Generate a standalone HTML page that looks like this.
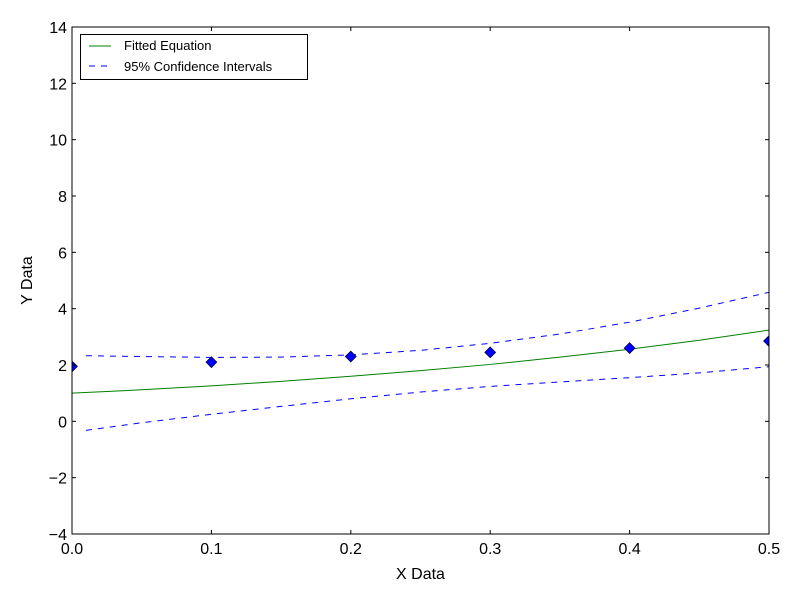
<!DOCTYPE html>
<html><head><meta charset="utf-8"><style>
body{margin:0;background:#fff;}
svg{display:block;font-family:"Liberation Sans","DejaVu Sans",sans-serif;}
</style></head><body>
<svg id="chart" width="800" height="600">
<rect x="0" y="0" width="800" height="600" fill="#fff"/>
<g id="plot"></g>
</svg>
<script>
const xTicks=[0,0.1,0.2,0.3,0.4,0.5];
const xTickLabels=["0.0","0.1","0.2","0.3","0.4","0.5"];
const yTicks=[-4,-2,0,2,4,6,8,10,12,14];
const yTickLabels=["\u22124","\u22122","0","2","4","6","8","10","12","14"];
const dataX=[0,0.1,0.2,0.3,0.4,0.5];
const dataY=[1.95,2.1,2.3,2.45,2.6,2.85];
const fitX=[0,0.05,0.1,0.15,0.2,0.25,0.3,0.35,0.4,0.45,0.5];
const fitY=[1.0,1.12,1.26,1.42,1.6,1.8,2.02,2.28,2.56,2.88,3.24];
const ciX=[0.01,0.05,0.1,0.15,0.2,0.25,0.3,0.35,0.4,0.45,0.5];
const upperY=[2.33,2.3,2.27,2.28,2.36,2.52,2.77,3.1,3.52,4.02,4.58];
const lowerY=[-0.32,-0.05,0.25,0.53,0.8,1.04,1.24,1.4,1.55,1.72,1.94];

const L=72,R=769,T=27,B=534,xmin=0,xmax=0.5,ymin=-4,ymax=14;
const sx=v=>L+(v-xmin)/(xmax-xmin)*(R-L);
const sy=v=>B-(v-ymin)/(ymax-ymin)*(B-T);
const NS="http://www.w3.org/2000/svg";
const g=document.getElementById('plot');
function mk(tag,attrs,parent){const e=document.createElementNS(NS,tag);for(const k in attrs)e.setAttribute(k,attrs[k]);(parent||g).appendChild(e);return e;}

const clip=mk('clipPath',{id:'clip'});mk('rect',{x:L,y:T,width:R-L,height:B-T},clip);

function line(xs,ys,color,dash,name){
  const p=mk('polyline',{points:xs.map((x,i)=>sx(x)+','+sy(ys[i])).join(' '),fill:'none',stroke:color,'stroke-width':1,'clip-path':'url(#clip)'});
  if(dash)p.setAttribute('stroke-dasharray',dash);
  
  
}
line(fitX,fitY,'#008000',null,'fitted-line');
line(ciX,upperY,'#0000ff','6,6','upper-confidence-line');
line(ciX,lowerY,'#0000ff','6,6','lower-confidence-line');

dataX.forEach((x,i)=>{
  const cx=sx(x),cy=sy(dataY[i]),r=5.5;
  const m=mk('polygon',{points:`${cx},${cy-r} ${cx+r},${cy} ${cx},${cy+r} ${cx-r},${cy}`,fill:'#0000ff',stroke:'#000','stroke-width':0.6,'clip-path':'url(#clip)'});
  
  
});

const frame=mk('rect',{x:L,y:T,width:R-L,height:B-T,fill:'none',stroke:'#000','stroke-width':1});



xTicks.forEach((v,i)=>{
  const x=sx(v);
  mk('line',{x1:x,y1:B,x2:x,y2:B-4,stroke:'#000'});
  mk('line',{x1:x,y1:T,x2:x,y2:T+4,stroke:'#000'});
  const t=mk('text',{x:x,y:B+20,'text-anchor':'middle','font-size':16});
  t.textContent=xTickLabels[i];
  
  
});
yTicks.forEach((v,i)=>{
  const y=sy(v);
  mk('line',{x1:L,y1:y,x2:L+4,y2:y,stroke:'#000'});
  mk('line',{x1:R,y1:y,x2:R-4,y2:y,stroke:'#000'});
  const t=mk('text',{x:L-5,y:y+6,'text-anchor':'end','font-size':16});
  t.textContent=yTickLabels[i];
  
  
});
const xt=mk('text',{x:(L+R)/2,y:579,'text-anchor':'middle','font-size':16});
xt.textContent='X Data';


const yt=mk('text',{x:0,y:0,'text-anchor':'middle','font-size':16,transform:`translate(32,${(T+B)/2}) rotate(-90)`});
yt.textContent='Y Data';



const lg=mk('g',{});


mk('rect',{x:80.5,y:34.5,width:227,height:45,fill:'#fff',stroke:'#000'},lg);
mk('line',{x1:89,y1:46,x2:111,y2:46,stroke:'#008000'},lg);
mk('line',{x1:89,y1:66,x2:111,y2:66,stroke:'#0000ff','stroke-dasharray':'6,6'},lg);
const l1=mk('text',{x:124,y:50,'font-size':13},lg);l1.textContent='Fitted Equation';


const l2=mk('text',{x:124,y:71,'font-size':13},lg);l2.textContent='95% Confidence Intervals';


</script>
</body></html>
